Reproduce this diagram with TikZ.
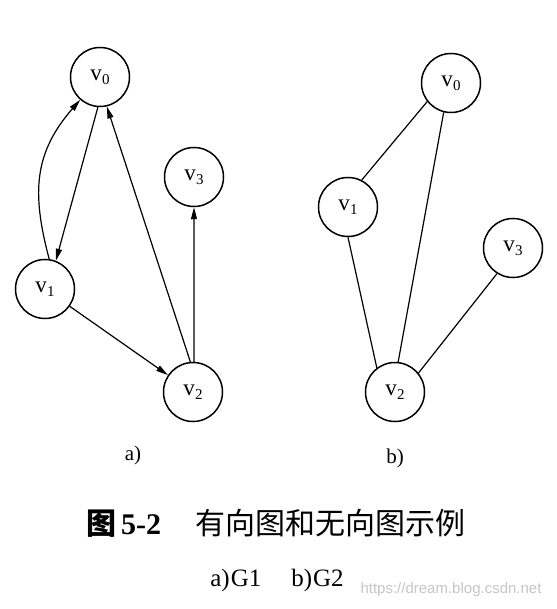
\documentclass[tikz,border=0pt]{standalone}
\usepackage{fontspec}
\setmainfont{Liberation Serif}
\newfontfamily\cjk{Noto Sans CJK SC}
\newfontfamily\wmfont{Liberation Sans}
\usetikzlibrary{arrows.meta}
\newcommand\vx[1]{v\kern0.3pt\raisebox{-0.4ex}{\fontsize{15}{15}\selectfont #1}}
\begin{document}
\begin{tikzpicture}[x=1pt,y=-1pt,
  vert/.style={circle, draw, line width=1.5pt, minimum size=59pt, inner sep=0pt, font=\fontsize{23}{23}\selectfont},
  edge/.style={line width=1.2pt},
  arr/.style={edge, -{Triangle[length=12pt,width=6pt]}},
  lbl/.style={font=\fontsize{21}{21}\selectfont}]
\useasboundingbox[fill=white] (0,0) rectangle (556,609);
% graph a
\node[vert] (a0) at (100,77) {\vx0};
\node[vert] (a1) at (45,289) {\vx1};
\node[vert] (a2) at (193,392) {\vx2};
\node[vert] (a3) at (194,177) {\vx3};
\draw[arr] (a0.266) -- (a1.69);
\draw[arr] (a1.82) to[out=105,in=229,looseness=1.1] (a0.229);
\draw[arr] (a2.95) -- (a0.283);
\draw[arr] (a2.88) -- (a3.south);
\draw[arr] (a1.325) -- (a2.146);
\node[lbl] (la) at (133,455) {a)};
% graph b
\node[vert] (b0) at (451,83) {\vx0};
\node[vert] (b1) at (348,207) {\vx1};
\node[vert] (b2) at (395,392) {\vx2};
\node[vert] (b3) at (513,248) {\vx3};
\draw[edge] (b0.218) -- (b1.63);
\draw[edge] (b0.256) -- (b2.84);
\draw[edge] (b1.270) -- (b2.127);
\draw[edge] (b2.39) -- (b3.238);
\node[lbl] (lb) at (395,458) {b)};
% caption
\node[anchor=west, inner sep=0pt] (cap) at (86,523) {\fontsize{30}{30}\selectfont{\cjk\bfseries 图}\kern5pt\textbf{5-2}\hspace{1.15em}{\cjk 有向图和无向图示例}};
\node[inner sep=0pt] (sub) at (277,580) {\fontsize{25}{25}\selectfont a)\kern1pt G1\hspace{1.2em}b)\kern1pt G2};
\node[inner sep=0pt, text=gray!45] (wm) at (451,590) {\wmfont\fontsize{15}{15}\selectfont https://dream.blog.csdn.net};
\end{tikzpicture}
\end{document}
